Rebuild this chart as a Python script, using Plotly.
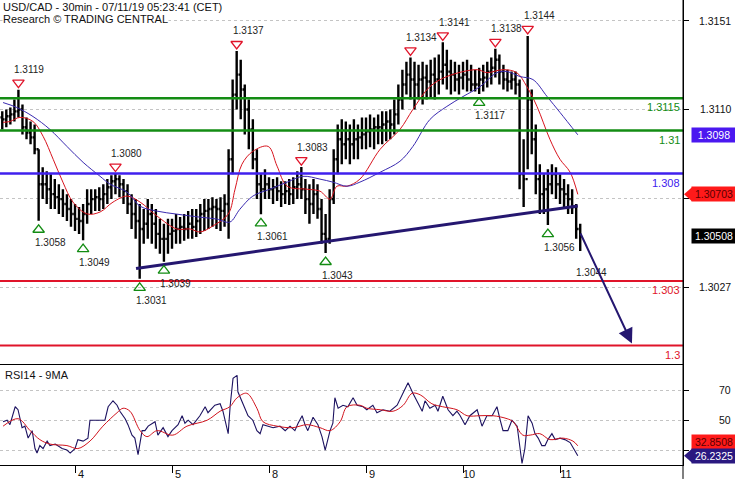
import plotly.graph_objects as go

# ---------------- data ----------------
# hourly bars; hour 0 = start of day 3, day boundaries every 24 hours (weekend removed)
hours = list(range(6, 150))
highs = [1.31089, 1.31098, 1.31107, 1.31144, 1.31190, 1.31121, 1.31061, 1.31042, 1.31028, 1.30913,
         1.30829, 1.30811, 1.30797, 1.30774, 1.30750, 1.30727, 1.30704, 1.30681, 1.30658, 1.30644,
         1.30658, 1.30727, 1.30727, 1.30727, 1.30736, 1.30750, 1.30774, 1.30792, 1.30800, 1.30792,
         1.30774, 1.30750, 1.30704, 1.30681, 1.30658, 1.30635, 1.30681, 1.30658, 1.30635, 1.30589,
         1.30566, 1.30589, 1.30589, 1.30612, 1.30598, 1.30612, 1.30626, 1.30635, 1.30635, 1.30658,
         1.30681, 1.30681, 1.30690, 1.30681, 1.30690, 1.30704, 1.30913, 1.31237, 1.31370, 1.31329,
         1.31214, 1.31144, 1.31052, 1.30913, 1.30797, 1.30820, 1.30783, 1.30774, 1.30783, 1.30764,
         1.30764, 1.30774, 1.30783, 1.30811, 1.30830, 1.30774, 1.30750, 1.30774, 1.30750, 1.30681,
         1.30612, 1.30727, 1.30913, 1.31028, 1.31052, 1.31042, 1.31028, 1.31052, 1.31028, 1.31061,
         1.31061, 1.31075, 1.31061, 1.31075, 1.31089, 1.31089, 1.31098, 1.31144, 1.31214, 1.31283,
         1.31320, 1.31340, 1.31320, 1.31306, 1.31320, 1.31306, 1.31329, 1.31339, 1.31353, 1.31410,
         1.31376, 1.31329, 1.31320, 1.31306, 1.31320, 1.31329, 1.31306, 1.31283, 1.31292, 1.31306,
         1.31320, 1.31339, 1.31380, 1.31353, 1.31306, 1.31283, 1.31274, 1.31274, 1.31237, 1.30959,
         1.31440, 1.31191, 1.31028, 1.30843, 1.30797, 1.30820, 1.30843, 1.30829, 1.30797, 1.30774,
         1.30750, 1.30727, 1.30658, 1.30566]
lows = [1.31005, 1.31015, 1.31028, 1.31042, 1.31061, 1.30982, 1.30959, 1.30936, 1.30890, 1.30580,
        1.30681, 1.30658, 1.30635, 1.30635, 1.30612, 1.30598, 1.30579, 1.30552, 1.30533, 1.30519,
        1.30490, 1.30566, 1.30612, 1.30626, 1.30626, 1.30635, 1.30658, 1.30681, 1.30704, 1.30690,
        1.30658, 1.30612, 1.30542, 1.30496, 1.30310, 1.30473, 1.30496, 1.30473, 1.30450, 1.30427,
        1.30390, 1.30427, 1.30450, 1.30473, 1.30473, 1.30487, 1.30496, 1.30496, 1.30505, 1.30519,
        1.30533, 1.30542, 1.30552, 1.30542, 1.30533, 1.30552, 1.30496, 1.30797, 1.31098, 1.31052,
        1.30982, 1.30913, 1.30820, 1.30681, 1.30610, 1.30681, 1.30681, 1.30658, 1.30672, 1.30644,
        1.30658, 1.30653, 1.30658, 1.30681, 1.30681, 1.30612, 1.30566, 1.30612, 1.30589, 1.30473,
        1.30430, 1.30473, 1.30658, 1.30797, 1.30843, 1.30866, 1.30843, 1.30866, 1.30866, 1.30913,
        1.30913, 1.30922, 1.30913, 1.30936, 1.30936, 1.30950, 1.30959, 1.30982, 1.31028, 1.31098,
        1.31167, 1.31144, 1.31098, 1.31144, 1.31121, 1.31144, 1.31154, 1.31144, 1.31167, 1.31214,
        1.31191, 1.31167, 1.31181, 1.31167, 1.31191, 1.31181, 1.31181, 1.31181, 1.31170, 1.31181,
        1.31200, 1.31214, 1.31246, 1.31214, 1.31191, 1.31181, 1.31191, 1.31167, 1.30727, 1.30644,
        1.30820, 1.30890, 1.30704, 1.30612, 1.30612, 1.30560, 1.30704, 1.30681, 1.30658, 1.30635,
        1.30612, 1.30612, 1.30496, 1.30440]
closes = [1.31052, 1.31066, 1.31075, 1.31089, 1.31098, 1.31015, 1.30991, 1.30968, 1.30913, 1.30750,
          1.30750, 1.30727, 1.30704, 1.30690, 1.30681, 1.30658, 1.30635, 1.30612, 1.30589, 1.30579,
          1.30612, 1.30658, 1.30681, 1.30690, 1.30681, 1.30704, 1.30736, 1.30764, 1.30774, 1.30750,
          1.30718, 1.30658, 1.30612, 1.30579, 1.30542, 1.30566, 1.30612, 1.30566, 1.30519, 1.30496,
          1.30496, 1.30519, 1.30533, 1.30542, 1.30552, 1.30542, 1.30566, 1.30552, 1.30579, 1.30612,
          1.30626, 1.30635, 1.30644, 1.30635, 1.30626, 1.30658, 1.30866, 1.31167, 1.31260, 1.31191,
          1.31098, 1.31005, 1.30866, 1.30750, 1.30727, 1.30750, 1.30727, 1.30736, 1.30718, 1.30704,
          1.30718, 1.30704, 1.30736, 1.30750, 1.30727, 1.30681, 1.30658, 1.30704, 1.30635, 1.30519,
          1.30496, 1.30681, 1.30866, 1.30959, 1.30936, 1.30959, 1.30936, 1.30959, 1.30968, 1.30982,
          1.30996, 1.31005, 1.31015, 1.31015, 1.31028, 1.31042, 1.31028, 1.31075, 1.31144, 1.31214,
          1.31260, 1.31237, 1.31214, 1.31237, 1.31246, 1.31228, 1.31260, 1.31237, 1.31274, 1.31306,
          1.31274, 1.31260, 1.31237, 1.31246, 1.31260, 1.31237, 1.31214, 1.31214, 1.31237, 1.31246,
          1.31274, 1.31292, 1.31329, 1.31274, 1.31237, 1.31228, 1.31237, 1.31214, 1.30797, 1.30774,
          1.31144, 1.30959, 1.30774, 1.30704, 1.30727, 1.30750, 1.30797, 1.30750, 1.30727, 1.30704,
          1.30681, 1.30644, 1.30542, 1.30508]
first_open = 1.31061
assert len(hours) == len(highs) == len(lows) == len(closes)
opens = [first_open] + closes[:-1]

# moving averages on price (red = fast, blue = slow)
red_ma_x = [6.2, 7.9, 10.4, 13.6, 16.1, 18.6, 21.0, 23.5, 27.0, 30.2, 33.4, 36.9, 40.1, 44.3, 49.2,
            52.5, 54.9, 58.1, 61.9, 63.6, 65.3, 68.0, 71.8, 74.0, 76.5, 81.4, 84.6, 87.1, 88.8, 91.3,
            94.5, 99.5, 104.4, 107.6, 111.8, 116.0, 123.5, 125.9, 129.9, 133.3, 135.8, 138.3, 141.5,
            144.0, 146.5, 148.4]
red_ma_y = [1.31038, 1.31042, 1.31061, 1.31042, 1.30973, 1.30866, 1.30760, 1.30667, 1.30612, 1.30621,
            1.30667, 1.30695, 1.30667, 1.30602, 1.30542, 1.30542, 1.30528, 1.30556, 1.30611, 1.30727,
            1.30843, 1.30903, 1.30926, 1.30834, 1.30741, 1.30727, 1.30718, 1.30681, 1.30741, 1.30741,
            1.30774, 1.30913, 1.31005, 1.31098, 1.31204, 1.31251, 1.31283, 1.31269, 1.31283, 1.31269,
            1.31204, 1.31112, 1.30959, 1.30866, 1.30806, 1.30703]
blue_ma_x = [6.2, 9.6, 13.6, 17.8, 22.0, 26.0, 30.2, 32.7, 36.9, 40.1, 44.3, 49.2, 54.9, 59.1, 62.3,
             64.8, 68.0, 72.2, 76.5, 80.4, 84.6, 87.8, 91.3, 94.5, 99.5, 104.4, 107.6, 111.8, 116.0,
             120.0, 124.2, 128.4, 130.9, 134.1, 137.3, 140.8, 144.0, 148.4]
blue_ma_y = [1.31130, 1.31107, 1.31065, 1.31005, 1.30926, 1.30852, 1.30787, 1.30750, 1.30713, 1.30648,
             1.30625, 1.30611, 1.30597, 1.30588, 1.30574, 1.30634, 1.30695, 1.30727, 1.30760, 1.30787,
             1.30774, 1.30760, 1.30741, 1.30760, 1.30806, 1.30857, 1.30926, 1.31051, 1.31112, 1.31158,
             1.31204, 1.31269, 1.31274, 1.31251, 1.31237, 1.31158, 1.31084, 1.30980]

# RSI(14) and its 9-period MA
rsi_x = [6.2, 7.2, 7.9, 9.2, 9.9, 10.9, 11.6, 12.4, 13.4, 14.1, 14.6, 15.3, 16.1, 17.1, 17.8, 19.1,
         20.8, 22.0, 22.8, 24.0, 24.7, 26.0, 27.2, 27.7, 28.9, 31.4, 32.2, 33.4, 34.4, 35.1, 36.4, 37.1,
         38.1, 38.8, 39.6, 40.6, 41.3, 42.1, 43.8, 44.5, 45.8, 47.0, 48.0, 49.5, 50.5, 51.2, 52.0, 53.2,
         54.9, 56.2, 56.9, 58.6, 59.9, 60.6, 61.9, 62.4, 63.1, 64.1, 64.3, 65.3, 66.1, 66.8, 68.0, 69.0,
         69.8, 70.5, 71.8, 73.0, 74.7, 76.0, 77.2, 78.4, 79.2, 80.2, 80.9, 81.6, 82.9, 84.1, 85.1, 85.9,
         87.1, 87.8, 88.3, 89.1, 90.3, 91.5, 92.8, 93.8, 95.3, 96.2, 97.7, 98.7, 100.2, 101.9, 103.7,
         104.9, 106.4, 107.6, 108.6, 109.9, 110.6, 111.8, 113.1, 113.8, 115.0, 116.3, 117.5, 118.5,
         119.3, 120.5, 121.7, 123.5, 124.7, 125.9, 127.2, 128.4, 129.2, 129.9, 131.1, 132.1, 133.4,
         134.1, 134.6, 135.3, 136.1, 137.1, 137.8, 138.6, 139.5, 140.3, 141.0, 142.0, 142.8, 144.0,
         145.2, 146.5, 147.7, 148.4]
rsi_y = [49, 50, 47, 59, 57, 45, 46, 38, 43, 31, 28, 33, 31, 36, 33, 34,
         31, 30, 28, 31, 37, 36, 38, 50, 50, 50, 59, 63, 60, 56, 51, 47,
         40, 38, 27, 43, 43, 46, 49, 40, 45, 39, 43, 47, 53, 48, 50, 47,
         53, 59, 55, 60, 61, 56, 41, 60, 78, 80, 69, 63, 58, 53, 50, 43,
         41, 47, 46, 45, 46, 43, 46, 43, 48, 53, 47, 43, 52, 47, 39, 30,
         43, 48, 65, 58, 60, 59, 65, 60, 59, 57, 60, 55, 57, 56, 60,
         67, 75, 68, 63, 56, 63, 58, 60, 56, 66, 57, 53, 56,
         53, 47, 53, 57, 46, 53, 53, 59, 50, 43, 43, 50, 46,
         33, 21, 31, 53, 48, 41, 38, 33, 33, 37, 41, 37, 38,
         37, 35, 30, 26.2325]
rsi_ma_x = [6.2, 9.9, 12.9, 15.3, 17.8, 22.0, 24.7, 27.7, 30.9, 34.4, 35.9, 37.6, 40.1, 41.8, 44.3,
            48.2, 51.7, 56.7, 59.9, 62.3, 64.1, 66.5, 69.0, 70.5, 74.0, 77.9, 81.4, 84.6, 87.1, 89.6,
            91.3, 94.5, 96.2, 99.5, 102.7, 105.2, 107.4, 109.4, 112.3, 115.0, 118.5, 121.0, 124.2,
            127.4, 130.9, 132.4, 134.8, 136.6, 139.0, 141.5, 144.7, 147.2, 148.4]
rsi_ma_y = [46, 51, 43, 37, 34, 33, 31, 36, 46, 55, 58, 56, 43, 39, 43,
            40, 46, 50, 56, 59, 65, 68, 58, 49, 46, 45, 47, 45, 43, 49,
            59, 60, 58, 57, 56, 60, 68, 67, 61, 59, 57, 53, 53,
            53, 51, 49, 40, 40, 41, 37, 38, 36, 32.8508]

# swing highs / lows
peak_x = [10, 34, 64, 80, 107, 115, 128, 136]
peak_y = [1.3119, 1.3080, 1.3137, 1.3083, 1.3134, 1.3141, 1.3138, 1.3144]
trough_x = [15, 26, 40, 46, 70, 86, 124, 141]
trough_y = [1.3058, 1.3049, 1.3031, 1.3039, 1.3061, 1.3043, 1.3117, 1.3056]
target_x = [149]
target_y = [1.3044]

# support / resistance levels
levels = [1.3115, 1.31, 1.308, 1.303, 1.3]

# trend line and projection
trend_x = [39.1, 148.4]
trend_y = [1.30358, 1.30649]
proj_x = [148.9, 161.8]
proj_y = [1.30528, 1.30009]

day_tick_hours = [24, 48, 72, 96, 120, 144]
day_tick_labels = ["4", "5", "8", "9", "10", "11"]
price_tick_vals = [1.3151, 1.3110, 1.30685, 1.3027]
price_tick_text = ["1.3151", "1.3110", "", "1.3027"]
rsi_tick_vals = [70, 50, 30]
rsi_tick_text = ["70", "50", ""]

header_lines = ["USD/CAD - 30min - 07/11/19 05:23:41 (CET)", "Research \u00a9 TRADING CENTRAL"]
rsi_title = "RSI14 - 9MA"

# ---------------- styling ----------------
FONT = "Liberation Sans, Arial, sans-serif"
GREEN = "#138c13"
BLUE = "#4020ee"
RED = "#e0142a"
NAVY = "#251770"
level_colors = [GREEN, GREEN, BLUE, RED, RED]
level_widths = [2.5, 2.5, 2.5, 2, 2]

X_RANGE = [5.44, 174.43]
Y_RANGE = [1.29912, 1.31607]
R_RANGE = [20.0, 87.33]
PLOT_H = 467
SPLIT = 101 / PLOT_H
PRICE_PX = PLOT_H - 101
ppu = PRICE_PX / (Y_RANGE[1] - Y_RANGE[0])  # pixels per price unit


def fmt(v, nd=5):
    return f"{v:.{nd}f}".rstrip("0")


fig = go.Figure()

fig.add_trace(go.Ohlc(
    x=hours, open=opens, high=highs, low=lows, close=closes,
    increasing=dict(line=dict(color="black", width=2.4)),
    decreasing=dict(line=dict(color="black", width=2.4)),
    tickwidth=0.45, xaxis="x", yaxis="y", hoverinfo="skip", showlegend=False))

fig.add_trace(go.Scatter(x=red_ma_x, y=red_ma_y, mode="lines", line=dict(color="#d8141e", width=1, shape="spline"),
                         xaxis="x", yaxis="y", hoverinfo="skip", showlegend=False))
fig.add_trace(go.Scatter(x=blue_ma_x, y=blue_ma_y, mode="lines", line=dict(color="#3a2ab0", width=1, shape="spline"),
                         xaxis="x", yaxis="y", hoverinfo="skip", showlegend=False))
fig.add_trace(go.Scatter(x=trend_x, y=trend_y, mode="lines", line=dict(color=NAVY, width=3),
                         xaxis="x", yaxis="y", hoverinfo="skip", showlegend=False))

# swing markers (offset a few pixels away from the extreme)
fig.add_trace(go.Scatter(x=peak_x, y=[p + 7 / ppu for p in peak_y], mode="markers",
                         marker=dict(symbol="triangle-down-open", size=10, color=RED, line=dict(width=1.3, color=RED)),
                         xaxis="x", yaxis="y", hoverinfo="skip", showlegend=False))
fig.add_trace(go.Scatter(x=trough_x, y=[p - 9 / ppu for p in trough_y], mode="markers",
                         marker=dict(symbol="triangle-up-open", size=10, color=GREEN, line=dict(width=1.3, color=GREEN)),
                         xaxis="x", yaxis="y", hoverinfo="skip", showlegend=False))

# RSI panel
fig.add_trace(go.Scatter(x=rsi_x, y=rsi_y, mode="lines", line=dict(color="#1c1260", width=1.1),
                         xaxis="x2", yaxis="y2", hoverinfo="skip", showlegend=False))
fig.add_trace(go.Scatter(x=rsi_ma_x, y=rsi_ma_y, mode="lines", line=dict(color="#d0141e", width=1, shape="spline"),
                         xaxis="x2", yaxis="y2", hoverinfo="skip", showlegend=False))

shapes = []
annotations = []

for lv, col, w in zip(levels, level_colors, level_widths):
    shapes.append(dict(type="line", xref="paper", x0=0, x1=1, yref="y", y0=lv, y1=lv,
                       line=dict(color=col, width=w), layer="above"))
    annotations.append(dict(x=1, xref="paper", xanchor="right", xshift=-1, y=lv, yref="y", yanchor="top", yshift=-1,
                            text=f"{lv:g}", showarrow=False, font=dict(family=FONT, size=11, color=col)))

for x, y in zip(peak_x, peak_y):
    annotations.append(dict(x=x, y=y, xref="x", yref="y", xanchor="left", xshift=-6, yanchor="middle", yshift=20,
                            text=f"{y:.4f}", showarrow=False, font=dict(family=FONT, size=10, color="#222222")))
for x, y in zip(trough_x + target_x, trough_y + target_y):
    annotations.append(dict(x=x, y=y, xref="x", yref="y", xanchor="left", xshift=-6, yanchor="middle", yshift=-22,
                            text=f"{y:.4f}", showarrow=False, font=dict(family=FONT, size=10, color="#222222")))

# projection arrow
annotations.append(dict(x=proj_x[1], y=proj_y[1], xref="x", yref="y", ax=proj_x[0], ay=proj_y[0],
                        axref="x", ayref="y", text="", showarrow=True, arrowhead=2, arrowsize=1.5,
                        arrowwidth=2, arrowcolor=NAVY, standoff=0))

# header
for i, line in enumerate(header_lines):
    annotations.append(dict(x=0, xref="paper", xanchor="left", xshift=2, y=1, yref="paper", yanchor="top",
                            yshift=-12 * i, text=line, showarrow=False, bgcolor="white", borderpad=0,
                            font=dict(family=FONT, size=11, color="#111111")))
annotations.append(dict(x=0, xref="paper", xanchor="left", xshift=3, y=SPLIT, yref="paper", yanchor="top",
                        yshift=-3, text=rsi_title, showarrow=False,
                        font=dict(family=FONT, size=11, color="#111111")))

# right-aligned axis labels
for v, t in zip(price_tick_vals, price_tick_text):
    if t:
        annotations.append(dict(x=1, xref="paper", xanchor="right", xshift=50, y=v, yref="y", yanchor="middle",
                                text=t, showarrow=False, font=dict(family=FONT, size=10.5, color="#111111")))
for v, t in zip(rsi_tick_vals, rsi_tick_text):
    if t:
        annotations.append(dict(x=1, xref="paper", xanchor="right", xshift=50, y=v, yref="y2", yanchor="middle",
                                text=t, showarrow=False, font=dict(family=FONT, size=10.5, color="#111111")))

# value boxes on the right axis
boxes = [
    (blue_ma_y[-1], "y", "#4b18f0", "white", False, 0),
    (red_ma_y[-1], "y", "#ff1a1a", "#5a0000", True, 0),
    (closes[-1], "y", "black", "white", False, 0),
    (rsi_ma_y[-1], "y2", "#ff1a1a", "#5a0000", False, 4),
    (rsi_y[-1], "y2", "#2a1880", "white", True, 0),
]
for val, yr, bg, fc, pointer, ys in boxes:
    annotations.append(dict(x=1, xref="paper", xanchor="left", xshift=8, y=val, yref=yr, yanchor="middle",
                            yshift=ys, text=fmt(val, 5 if yr == "y" else 4), showarrow=False, bgcolor=bg,
                            width=42, height=12, borderpad=1, align="center",
                            font=dict(family=FONT, size=10.5, color=fc)))
    if pointer:
        shapes.append(dict(type="path", xref="paper", yref=yr, xsizemode="pixel", ysizemode="pixel",
                           xanchor=1, yanchor=val, path="M1,0 L9,7 L9,-7 Z", fillcolor=bg,
                           line=dict(width=0), layer="above"))

# right axis line continues to the bottom of the picture
shapes.append(dict(type="line", xref="paper", yref="paper", x0=1, x1=1, y0=-0.03, y1=1,
                   line=dict(color="black", width=1), layer="above"))

fig.update_layout(
    width=735, height=480,
    margin=dict(l=0, r=52, t=0, b=13),
    paper_bgcolor="white", plot_bgcolor="white",
    showlegend=False,
    font=dict(family=FONT, size=11, color="#111111"),
    xaxis=dict(domain=[0, 1], range=X_RANGE, anchor="y", showticklabels=False, ticks="",
               showgrid=False, zeroline=False, showline=True, linecolor="black", linewidth=1,
               rangeslider=dict(visible=False)),
    yaxis=dict(domain=[SPLIT, 1], range=Y_RANGE, side="right", anchor="x", tickvals=price_tick_vals,
               showticklabels=False, ticks="outside", ticklen=5, tickcolor="black",
               showgrid=True, gridcolor="#c4c4c4", griddash="dot", gridwidth=1,
               zeroline=False, showline=True, linecolor="black", linewidth=1),
    xaxis2=dict(domain=[0, 1], range=X_RANGE, anchor="y2", tickvals=day_tick_hours, ticktext=day_tick_labels,
                ticks="outside", ticklen=7, tickcolor="black", ticklabelshift=6, ticklabelstandoff=-8,
                tickfont=dict(family=FONT, size=11, color="#111111"),
                showgrid=False, zeroline=False, showline=True, linecolor="black", linewidth=1),
    yaxis2=dict(domain=[0, SPLIT], range=R_RANGE, side="right", anchor="x2", tickvals=rsi_tick_vals,
                showticklabels=False, ticks="outside", ticklen=5, tickcolor="black",
                showgrid=True, gridcolor="#c4c4c4", griddash="dot", gridwidth=1,
                zeroline=False, showline=True, linecolor="black", linewidth=1),
    shapes=shapes,
    annotations=annotations,
)

fig.write_html("out.html", config={"displayModeBar": False, "staticPlot": True},
               post_script="document.body.style.margin='0';document.body.style.overflow='hidden';")
